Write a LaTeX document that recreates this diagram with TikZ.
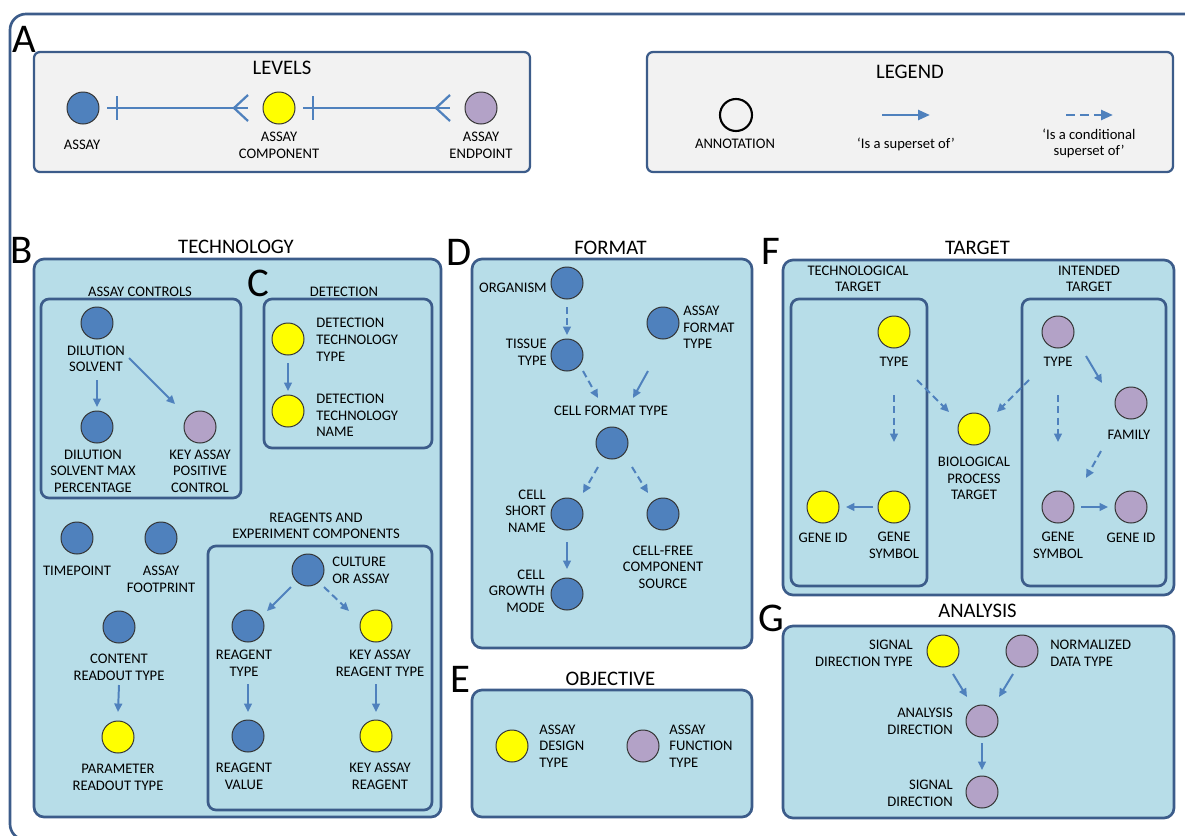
\documentclass[tikz,border=0pt]{standalone}
\usepackage{fontspec}
\setmainfont{Carlito}
\usetikzlibrary{arrows.meta,calc}

\definecolor{frameblue}{RGB}{60,92,138}
\definecolor{panelfill}{RGB}{183,221,232}
\definecolor{levelfill}{RGB}{242,242,242}
\definecolor{assayblue}{RGB}{79,129,189}
\definecolor{compyellow}{RGB}{255,255,0}
\definecolor{endpurple}{RGB}{179,162,199}

\begin{document}
\begin{tikzpicture}[x=0.025cm, y=-0.025cm,
  dot/.style={circle, draw=black!80, line width=0.7pt, minimum size=0.8cm, inner sep=0pt},
  assay/.style={dot, fill=assayblue},
  comp/.style={dot, fill=compyellow},
  endp/.style={dot, fill=endpurple},
  lab/.style={font=\fontsize{10.4}{11.8}\selectfont, align=center, inner sep=0pt},
  labr/.style={lab, anchor=east, align=right},
  labl/.style={lab, anchor=west, align=left},
  head/.style={font=\fontsize{14.7}{17}\selectfont, inner sep=0pt},
  letter/.style={font=\fontsize{29}{30}\selectfont, inner sep=0pt},
  levelbox/.style={draw=frameblue, line width=1.6pt, fill=levelfill, rounded corners=0.15cm},
  panel/.style={draw=frameblue, line width=1.9pt, fill=panelfill, rounded corners=0.25cm},
  inbox/.style={draw=frameblue, line width=1.9pt, rounded corners=0.2cm},
  isa/.style={draw=assayblue, line width=1.4pt, -{Triangle[length=6pt,width=5.5pt]}},
  cisa/.style={isa, dash pattern=on 5pt off 3pt},
  legarrow/.style={line width=1.9pt, -{Triangle[length=8.5pt,width=7pt]}},
  crow/.style={draw=assayblue, line width=1.6pt}]
%\draw [lightgray, ultra thin] (0,0) grid [step=50] (1185,836);
\clip (0,0) rectangle (1185,836);
\draw [frameblue, line width=1.9pt, rounded corners=0.4cm] (10,14) rectangle (1205,840);

% A
\node [letter] (letA) at (24,39) {A};
\draw [levelbox] (34,52) rectangle (530,172);
\node [head] (levels) at (282,68) {LEVELS};
\node [assay] (lva) at (83,108) {};
\node [comp] (lvc) at (279,108) {};
\node [endp] (lve) at (481,108) {};
\node [lab] (lvaL) at (82,145) {ASSAY};
\node [lab] (lvcL) at (279,145.5) {ASSAY\\COMPONENT};
\node [lab] (lveL) at (481,145.5) {ASSAY\\ENDPOINT};
\foreach \a/\b in {lva/lvc, lvc/lve} {
  \draw [crow] ($(\a)+(24,0)$) -- ($(\b)+(-31,0)$);
  \draw [crow] ($(\a)+(34,-12)$) -- ($(\a)+(34,12)$);
  \draw [crow] ($(\b)+(-31,-13)$) -- ($(\b)+(-45,0)$) -- ($(\b)+(-31,13)$);
}

\draw [levelbox] (647,52) rectangle (1173,172);
\node [head] (legend) at (910,72) {LEGEND};
\node [dot, draw=black, line width=1.5pt] (annot) at (736,115) {};
\node [lab] (annotL) at (735,144) {ANNOTATION};
\coordinate (sup1) at (882,115);
\coordinate (sup2) at (930,115);
\draw [isa, legarrow] (sup1) -- (sup2);
\node [lab] (supL) at (906,144) {‘Is a superset of’};
\coordinate (csup1) at (1066,115);
\coordinate (csup2) at (1113,115);
\draw [cisa, legarrow, dash pattern=on 6.4pt off 3.5pt] (csup1) -- (csup2);
\node [lab] (csupL) at (1089,143.5) {‘Is a conditional\\superset of’};

% B
\node [letter] (letB) at (22,250) {B};
\node [head] (tech) at (236,247) {TECHNOLOGY};
\draw [panel] (34,259) rectangle (441,817);
\node [lab] (acH) at (140,291.5) {ASSAY CONTROLS};
\draw [inbox] (41,299) rectangle (241,498);
\node [assay] (ds) at (97,323) {};
\node [lab] (dsL) at (96,359) {DILUTION\\SOLVENT};
\node [assay] (dsm) at (97,427) {};
\node [lab] (dsmL) at (93,471) {DILUTION\\SOLVENT MAX\\PERCENTAGE};
\node [endp] (kapc) at (200,427) {};
\node [lab] (kapcL) at (200,471) {KEY ASSAY\\POSITIVE\\CONTROL};
\draw [isa] ($(ds)+(0,57)$) -- ($(dsm)+(0,-20)$);
\draw [isa] ($(ds)+(32,35)$) -- ($(kapc)+(-25,-23)$);

% C
\node [letter] (letC) at (258,283.5) {C};
\node [lab] (detH) at (344,291.5) {DETECTION};
\draw [inbox] (264,299) rectangle (432,448);
\node [comp] (dtt) at (288,339) {};
\node [labl] (dttL) at (316,339.7) {DETECTION\\TECHNOLOGY\\TYPE};
\node [comp] (dtn) at (288,411) {};
\node [labl] (dtnL) at (316,415.5) {DETECTION\\TECHNOLOGY\\NAME};
\draw [isa] ($(dtt)+(0,24)$) -- ($(dtn)+(0,-20)$);

\node [assay] (tp) at (77,538) {};
\node [lab] (tpL) at (77,571) {TIMEPOINT};
\node [assay] (afp) at (161,538) {};
\node [lab] (afpL) at (161,579.5) {ASSAY\\FOOTPRINT};
\node [assay] (crt) at (119,627) {};
\node [lab] (crtL) at (119,667.5) {CONTENT\\READOUT TYPE};
\node [comp] (prt) at (118,737) {};
\node [lab] (prtL) at (118,777.5) {PARAMETER\\READOUT TYPE};
\draw [isa] ($(crt)+(0,58)$) -- ($(prt)+(0,-25)$);

\node [lab] (reH) at (316,526) {REAGENTS AND\\EXPERIMENT COMPONENTS};
\draw [inbox] (208,546) rectangle (432,810);
\node [assay] (coa) at (308,570) {};
\node [labl] (coaL) at (332,570.5) {CULTURE\\OR ASSAY};
\node [assay] (rt) at (248,626) {};
\node [lab] (rtL) at (244,663.5) {REAGENT\\TYPE};
\node [comp] (kart) at (376,626) {};
\node [lab] (kartL) at (380,663.5) {KEY ASSAY\\REAGENT TYPE};
\node [assay] (rv) at (248,736) {};
\node [lab] (rvL) at (244,776.5) {REAGENT\\VALUE};
\node [comp] (kar) at (376,736) {};
\node [lab] (karL) at (380,776.5) {KEY ASSAY\\REAGENT};
\draw [isa] ($(coa)+(-17,17)$) -- ($(rt)+(19,-15)$);
\draw [cisa] ($(coa)+(16,17)$) -- ($(kart)+(-27,-15)$);
\draw [isa] ($(rt)+(0,58)$) -- ($(rv)+(0,-24)$);
\draw [isa] ($(kart)+(0,58)$) -- ($(kar)+(0,-24)$);

% D
\node [letter] (letD) at (459.5,252) {D};
\node [head] (fmt) at (610.5,248) {FORMAT};
\draw [panel] (472,259) rectangle (752,648);
\node [assay] (org) at (567,283) {};
\node [labr] (orgL) at (547,288) {ORGANISM};
\node [assay] (tis) at (567,355) {};
\node [labr] (tisL) at (547,352.5) {TISSUE\\TYPE};
\node [assay] (af) at (663,323) {};
\node [labl] (afL) at (683,327.6) {ASSAY\\FORMAT\\TYPE};
\node [lab] (cftL) at (611,411) {CELL FORMAT TYPE};
\node [assay] (cft) at (612,443) {};
\node [assay] (csn) at (567,514) {};
\node [labr] (csnL) at (546,511) {CELL\\SHORT\\NAME};
\node [assay] (cfc) at (663,514) {};
\node [lab] (cfcL) at (663,567) {CELL-FREE\\COMPONENT\\SOURCE};
\node [assay] (cgm) at (567,594) {};
\node [labr] (cgmL) at (545,591) {CELL\\GROWTH\\MODE};
\draw [cisa] ($(org)+(0,24)$) -- ($(tis)+(0,-20)$);
\draw [cisa] ($(tis)+(16,16)$) -- ($(cft)+(-14,-45)$);
\draw [isa] ($(af)+(-15,48)$) -- ($(cft)+(21,-45)$);
\draw [cisa] ($(cft)+(-14,24)$) -- ($(csn)+(16,-21)$);
\draw [cisa] ($(cft)+(20,24)$) -- ($(cfc)+(-15,-21)$);
\draw [isa] ($(csn)+(0,28)$) -- ($(cgm)+(0,-25)$);

% E
\node [letter] (letE) at (460,679) {E};
\node [head] (obj) at (610.5,678.5) {OBJECTIVE};
\draw [panel] (472,690) rectangle (752,817);
\node [comp] (adt) at (512,746) {};
\node [labl] (adtL) at (539,746) {ASSAY\\DESIGN\\TYPE};
\node [endp] (aft) at (643,746) {};
\node [labl] (aftL) at (669,746) {ASSAY\\FUNCTION\\TYPE};

% F
\node [letter] (letF) at (770.5,251) {F};
\node [head] (tgt) at (977.5,248) {TARGET};
\draw [panel] (783,260) rectangle (1174,595);
\node [lab] (ttH) at (858,279) {TECHNOLOGICAL\\TARGET};
\draw [inbox] (791,299) rectangle (927,586);
\node [lab] (itH) at (1089,279) {INTENDED\\TARGET};
\draw [inbox] (1022,299) rectangle (1166,586);
\node [comp] (ttype) at (894,332) {};
\node [lab] (ttypeL) at (894,362) {TYPE};
\node [comp] (tgsym) at (894,507) {};
\node [lab] (tgsymL) at (894,545.5) {GENE\\SYMBOL};
\node [comp] (tgid) at (823,507) {};
\node [lab] (tgidL) at (823,538) {GENE ID};
\node [comp] (bio) at (974,429) {};
\node [lab] (bioL) at (974,478.5) {BIOLOGICAL\\PROCESS\\TARGET};
\node [endp] (itype) at (1058,332) {};
\node [lab] (itypeL) at (1058,362) {TYPE};
\node [endp] (fam) at (1131,403) {};
\node [lab] (famL) at (1129,435) {FAMILY};
\node [endp] (igsym) at (1058,507) {};
\node [lab] (igsymL) at (1058,545.5) {GENE\\SYMBOL};
\node [endp] (igid) at (1131,507) {};
\node [lab] (igidL) at (1131,538) {GENE ID};
\draw [cisa] ($(ttype)+(0,63)$) -- ($(tgsym)+(0,-65)$);
\draw [cisa] ($(ttype)+(23,48)$) -- ($(bio)+(-25,-17)$);
\draw [isa] ($(tgsym)+(-21,0)$) -- ($(tgid)+(23,0)$);
\draw [cisa] ($(itype)+(-29,48)$) -- ($(bio)+(23,-17)$);
\draw [isa] ($(itype)+(28,24)$) -- ($(fam)+(-29,-20)$);
\draw [cisa] ($(itype)+(0,63)$) -- ($(igsym)+(0,-65)$);
\draw [cisa] ($(fam)+(-30,48)$) -- ($(igsym)+(28,-29)$);
\draw [isa] ($(igsym)+(23,0)$) -- ($(igid)+(-23,0)$);

% G
\node [letter] (letG) at (771,618) {G};
\node [head] (ana) at (977.5,611) {ANALYSIS};
\draw [panel] (783,626) rectangle (1174,818);
\node [comp] (sdt) at (943,651) {};
\node [labr] (sdtL) at (913,653.5) {SIGNAL\\DIRECTION TYPE};
\node [endp] (ndt) at (1022,651) {};
\node [labl] (ndtL) at (1050,653.5) {NORMALIZED\\DATA TYPE};
\node [endp] (ad) at (982,721) {};
\node [labr] (adL) at (953,721.5) {ANALYSIS\\DIRECTION};
\node [endp] (sd) at (982,792) {};
\node [labr] (sdL) at (953,793.5) {SIGNAL\\DIRECTION};
\draw [isa] ($(sdt)+(10,23)$) -- ($(ad)+(-15,-24)$);
\draw [isa] ($(ndt)+(-9,23)$) -- ($(ad)+(17,-24)$);
\draw [isa] ($(ad)+(0,22)$) -- ($(sd)+(0,-22)$);
\end{tikzpicture}
\end{document}
